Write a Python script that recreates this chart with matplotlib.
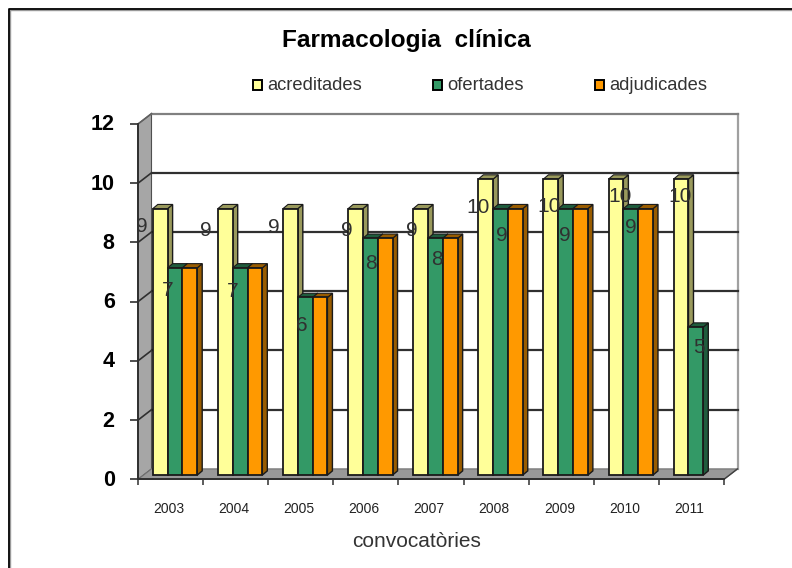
import matplotlib
matplotlib.use('Agg')
import matplotlib.pyplot as plt
from matplotlib.lines import Line2D
from matplotlib.patches import Rectangle
from matplotlib.transforms import ScaledTranslation

plt.rcParams['font.family'] = ['Liberation Sans', 'DejaVu Sans']

# Data
years = ['2003', '2004', '2005', '2006', '2007', '2008', '2009', '2010', '2011']
acreditades = [9, 9, 9, 9, 9, 10, 10, 10, 10]
ofertades = [7, 7, 6, 8, 8, 9, 9, 9, 5]
adjudicades = [7, 7, 6, 8, 8, 9, 9, 9, 0]
yticks = [0, 2, 4, 6, 8, 10, 12]

# Data label positions wander in the original, offsets in pixels from bar top left
acred_lab = [(-11, 18), (-12, 22), (-9, 19), (-1, 22), (-1, 22), (0, 28), (6, 27), (11, 17), (6, 17)]
ofert_lab = [(0, 23), (0, 24), (4, 28), (8, 25), (9, 21), (9, 27), (7, 27), (7, 19), (10, 20)]

W, H = 792, 568
fig = plt.figure(figsize=(W / 100, H / 100), dpi=100)

# front plane of the fake 3D box
x0, x1 = 138, 724
y0, y12 = 479.3, 124
ax = fig.add_axes([x0 / W, 1 - y0 / H, (x1 - x0) / W, (y0 - y12) / H])
ax.set_xlim(0, 9)
ax.set_ylim(0, 12)
ax.patch.set_alpha(0)
for s in ['top', 'right']:
    ax.spines[s].set_visible(False)
for s in ['left', 'bottom']:
    ax.spines[s].set_color('#303030')
    ax.spines[s].set_linewidth(1.4)

ppx = 9 / (x1 - x0)
ppy = 12 / (y0 - y12)
dx, dy = 13.5 * ppx, 10.4 * ppy    # wall depth
bx, by = 5 * ppx, 4.2 * ppy        # bar depth

# walls and floor
ax.fill([0, dx, dx, 0], [0, dy, 12 + dy, 12], color='#a6a6a6', ec='#505050', lw=0.8, zorder=1, clip_on=False)
ax.fill([0, dx, 9 + dx, 9], [0, dy, dy, 0], color='#999999', ec='#707070', lw=0.8, zorder=1, clip_on=False)
ax.plot([9 + dx, 9 + dx], [dy, 12 + dy], color='#a0a0a0', lw=1.6, zorder=1, clip_on=False)
ax.plot([dx, 9 + dx], [12 + dy, 12 + dy], color='#808080', lw=1.6, zorder=1, clip_on=False)
for t in yticks[1:-1]:
    ax.plot([dx, 9 + dx], [t + dy, t + dy], color='#303030', lw=1.6, zorder=2, clip_on=False)
    ax.plot([0, dx], [t, t + dy], color='#303030', lw=1.2, zorder=2, clip_on=False)
ax.plot([0, dx], [12, 12 + dy], color='#606060', lw=1.2, zorder=2, clip_on=False)
ax.plot([9, 9 + dx], [0, dy], color='#404040', lw=1.0, zorder=2, clip_on=False)


def bars3d(vals, off, front, side, top, z):
    w = 14.8 * ppx
    for i, v in enumerate(vals):
        if v == 0:
            continue
        l = i + off
        r = l + w
        ax.add_patch(Rectangle((l, by), w, v, fc=front, ec='#1a1a1a', lw=1.3, zorder=z + 0.2, clip_on=False))
        ax.fill([r, r + bx, r + bx, r], [by, 2 * by, v + 2 * by, v + by], fc=side, ec='#1a1a1a', lw=1.0, zorder=z, clip_on=False)
        ax.fill([l, l + bx, r + bx, r], [v + by, v + 2 * by, v + 2 * by, v + by], fc=top, ec='#1a1a1a', lw=0.8, zorder=z, clip_on=False)


off1 = 14.8 * ppx
w1 = 14.8 * ppx
# later series sit in front of the side face of the one before
bars3d(acreditades, off1, '#ffff99', '#99995c', '#99995c', 3.0)
bars3d(ofertades, off1 + w1, '#339966', '#1f5c3d', '#1f5c3d', 4.0)
bars3d(adjudicades, off1 + 2 * w1, '#ff9900', '#995c00', '#995c00', 5.0)

# data labels
for i, v in enumerate(acreditades):
    px, py = acred_lab[i]
    ax.annotate(str(v), (i + off1, v + by), xytext=(px * 0.72, -py * 0.72), textcoords='offset points',
                ha='center', va='center', fontsize=15, color='#303030', zorder=8)
for i, v in enumerate(ofertades):
    px, py = ofert_lab[i]
    ax.annotate(str(v), (i + off1 + w1, v + by), xytext=(px * 0.72, -py * 0.72), textcoords='offset points',
                ha='center', va='center', fontsize=15, color='#303030', zorder=8)

# axes ticks
ax.set_xticks(range(10))
ax.set_xticklabels([])
ax.set_yticks(yticks)
ax.tick_params(axis='x', length=4, width=1.1, color='#303030')
ax.tick_params(axis='y', length=5.8, width=1.2, color='#303030', labelsize=15.5, pad=11)
for lab in ax.get_yticklabels():
    lab.set_fontweight('bold')
    lab.set_transform(lab.get_transform() + ScaledTranslation(0, 1.5 / 100, fig.dpi_scale_trans))
for i, y in enumerate(years):
    ax.text(i + 0.47, -1.0, y, ha='center', va='center', fontsize=10, color='#222222')
ax.text(4.28, -2.1, 'convocatòries', ha='center', va='center', fontsize=15, color='#333333')

# title
fig.text(406 / W, 1 - 41 / H, 'Farmacologia  clínica', ha='center', va='center', fontsize=17.6, fontweight='bold')

# legend drawn by hand at the top
leg = [('acreditades', '#ffff99', 253), ('ofertades', '#339966', 433), ('adjudicades', '#ff9900', 595)]
for name, col, lx in leg:
    fig.add_artist(Rectangle((lx / W, 1 - 89.5 / H), 9 / W, 9 / H, transform=fig.transFigure, fc=col, ec='black', lw=1.4))
    fig.text((lx + 14) / W, 1 - 86 / H, name, ha='left', va='center', fontsize=13.2, color='#333333')

# outer frame, only top and left are inside the picture
fig.add_artist(Line2D([9.5 / W, 9.5 / W, 1], [0, 1 - 10 / H, 1 - 10 / H], transform=fig.transFigure, color='#999999', lw=1.0))
fig.add_artist(Line2D([8.5 / W, 8.5 / W, 1], [0, 1 - 9 / H, 1 - 9 / H], transform=fig.transFigure, color='black', lw=1.3))

fig.savefig('out.png', dpi=100)
